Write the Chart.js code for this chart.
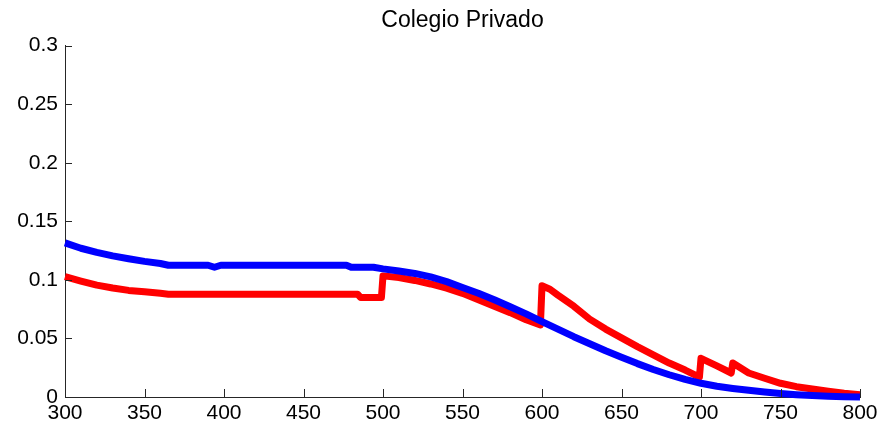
<!DOCTYPE html>
<html>
<head>
<meta charset="utf-8">
<script src="https://cdn.jsdelivr.net/npm/chart.js@4/dist/chart.umd.min.js"></script>
<style>
  html, body { margin: 0; padding: 0; background: #fff; }
  #wrap { width: 884px; height: 429px; }
</style>
</head>
<body>
<div id="wrap"><canvas id="chart"></canvas></div>
<script>
// Colegio Privado - two curves
const blueX = [300, 310, 320, 330, 340, 350, 360, 365, 390, 394, 398, 477, 480, 494, 500, 510, 520, 530, 540, 550, 560, 570, 580, 590, 600, 610, 620, 630, 640, 650, 660, 670, 680, 690, 700, 710, 720, 730, 740, 750, 760, 770, 780, 790, 800];
const blueY = [0.1316, 0.127, 0.1235, 0.1205, 0.118, 0.1158, 0.114, 0.1125, 0.1125, 0.1108, 0.1125, 0.1125, 0.1108, 0.1108, 0.1094, 0.1075, 0.1055, 0.1025, 0.0985, 0.0935, 0.0885, 0.083, 0.077, 0.071, 0.0644, 0.058, 0.0515, 0.0455, 0.0395, 0.034, 0.0285, 0.0235, 0.019, 0.015, 0.0117, 0.0092, 0.0073, 0.0057, 0.0042, 0.003, 0.002, 0.0012, 0.0007, 0.0003, 0.0001];

const redX = [300, 310, 320, 330, 340, 350, 360, 365, 484, 486, 499, 500, 510, 520, 530, 540, 550, 560, 570, 580, 590, 599, 600, 605, 610, 620, 630, 640, 650, 660, 670, 680, 690, 699, 700, 710, 719, 720, 730, 740, 750, 760, 770, 780, 790, 800];
const redY = [0.1028, 0.099, 0.0955, 0.093, 0.091, 0.0898, 0.0885, 0.0878, 0.0878, 0.0849, 0.0849, 0.1034, 0.102, 0.0995, 0.0965, 0.093, 0.0885, 0.083, 0.0775, 0.072, 0.066, 0.0615, 0.0949, 0.092, 0.087, 0.0775, 0.0665, 0.058, 0.0505, 0.043, 0.036, 0.029, 0.023, 0.017, 0.033, 0.0265, 0.0205, 0.029, 0.0205, 0.016, 0.0117, 0.0088, 0.0068, 0.005, 0.0032, 0.002];

const xTicks = [300, 350, 400, 450, 500, 550, 600, 650, 700, 750, 800];
const yTicks = [0, 0.05, 0.1, 0.15, 0.2, 0.25, 0.3];
const yTickLabels = ['0', '0.05', '0.1', '0.15', '0.2', '0.25', '0.3'];

const toPoints = (xs, ys) => xs.map((x, i) => ({ x: x, y: ys[i] }));

// MATLAB style inward tick marks
const inwardTicks = {
    id: 'inwardTicks',
    afterDraw(chart) {
        const { ctx, chartArea, scales } = chart;
        ctx.save();
        ctx.strokeStyle = '#262626';
        ctx.lineWidth = 1;
        ctx.beginPath();
        xTicks.forEach(v => {
            const px = Math.round(scales.x.getPixelForValue(v)) + 0.5;
            ctx.moveTo(px, chartArea.bottom);
            ctx.lineTo(px, chartArea.bottom - 8);
        });
        yTicks.forEach(v => {
            const py = Math.round(scales.y.getPixelForValue(v)) + 0.5;
            ctx.moveTo(chartArea.left, py);
            ctx.lineTo(chartArea.left + 7, py);
        });
        ctx.stroke();
        ctx.restore();
    }
};

const font = { family: 'Liberation Sans, Arial, sans-serif', size: 21 };

new Chart(document.getElementById('chart'), {
    type: 'line',
    data: {
        datasets: [
            {
                label: 'azul',
                data: toPoints(blueX, blueY),
                borderColor: '#0000ff',
                borderWidth: 7,
                pointRadius: 0,
                tension: 0,
                clip: false,
                borderJoinStyle: 'round'
            },
            {
                label: 'rojo',
                data: toPoints(redX, redY),
                borderColor: '#ff0000',
                borderWidth: 7,
                pointRadius: 0,
                tension: 0,
                clip: false,
                borderJoinStyle: 'round'
            }
        ]
    },
    options: {
        responsive: true,
        maintainAspectRatio: false,
        animation: false,
        layout: { padding: { left: 0, right: 24, top: 0, bottom: 0 } },
        plugins: {
            legend: { display: false },
            tooltip: { enabled: false },
            title: {
                display: true,
                fullSize: false,
                text: 'Colegio Privado',
                color: '#000',
                font: { family: font.family, size: 23, weight: 'normal' },
                padding: { top: 7, bottom: 11 }
            }
        },
        scales: {
            x: {
                type: 'linear',
                min: 300,
                max: 800,
                afterBuildTicks: s => { s.ticks = xTicks.map(v => ({ value: v })); },
                afterFit: s => { s.height = 32; },
                grid: { display: false, drawTicks: false },
                border: { display: true, color: '#262626', width: 1 },
                ticks: { color: '#000', font: font, padding: 4, maxRotation: 0 }
            },
            y: {
                min: 0,
                max: 0.3,
                afterBuildTicks: s => { s.ticks = yTicks.map(v => ({ value: v })); },
                afterFit: s => { s.width = 65; },
                grid: { display: false, drawTicks: false },
                border: { display: true, color: '#262626', width: 1 },
                ticks: {
                    color: '#000',
                    font: font,
                    padding: 7,
                    callback: (v) => yTickLabels[yTicks.indexOf(v)]
                }
            }
        }
    },
    plugins: [inwardTicks]
});
</script>
</body>
</html>
